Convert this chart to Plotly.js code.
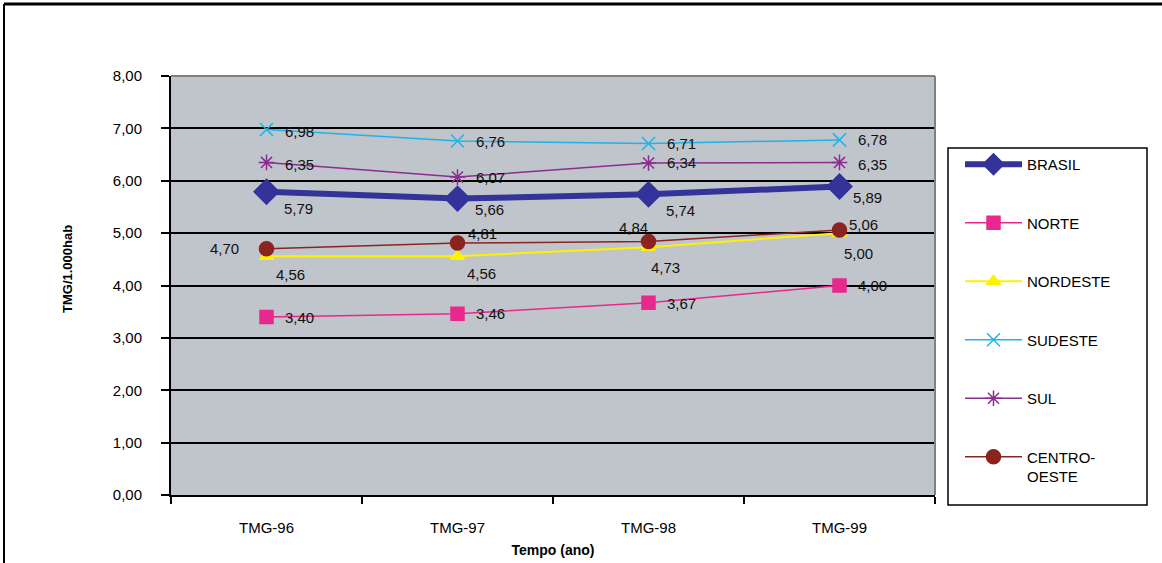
<!DOCTYPE html>
<html><head><meta charset="utf-8">
<script src="https://cdn.plot.ly/plotly-3.0.1.min.js"></script>
<style>html,body{margin:0;padding:0;background:#fff}#c{width:1162px;height:563px}</style>
</head><body><div id="c"></div>
<script>
const categories = ["TMG-96","TMG-97","TMG-98","TMG-99"];
const seriesNames = ["BRASIL","NORTE","NORDESTE","SUDESTE","SUL","CENTRO-<br>OESTE"];
const brasil = [5.79,5.66,5.74,5.89];
const norte = [3.40,3.46,3.67,4.00];
const nordeste = [4.56,4.56,4.73,5.00];
const sudeste = [6.98,6.76,6.71,6.78];
const sul = [6.35,6.07,6.34,6.35];
const centroOeste = [4.70,4.81,4.84,5.06];
const yTicks = [0,1,2,3,4,5,6,7,8];

const font = "Liberation Sans, Arial, sans-serif";
const styles = [
  {color:"#333399", width:6, symbol:"diamond", size:19},
  {color:"#E8288C", width:1.5, symbol:"square", size:13},
  {color:"#FFF200", width:2, symbol:"triangle-up", size:12},
  {color:"#1EB4E8", width:1.5, symbol:"x-thin-open", size:13},
  {color:"#8B2D8F", width:1.5, symbol:"asterisk-open", size:13},
  {color:"#8B2320", width:1.5, symbol:"circle", size:14}
];
// label offsets in pixels (dx right, dy down) relative to each marker
const labelOffsets = [
  [[32,17],[32,11],[32,16],[28,11]],
  [[33,1],[33,0],[33,1],[33,0]],
  [[24,18],[24,17],[17,20],[19,20]],
  [[33,2],[33,1],[33,0],[33,0]],
  [[33,2],[33,0],[33,0],[33,2]],
  [[-42,0],[25,-10],[-15,-14],[24,-5]]
];
const values = [brasil,norte,nordeste,sudeste,sul,centroOeste];
const traces = values.map((v,i)=>({
  type:"scatter", mode:"lines+markers", x:categories, y:v, name:seriesNames[i],
  legendgroup:"g"+i,
  line:{color:styles[i].color, width:styles[i].width},
  marker:{symbol:styles[i].symbol, size:styles[i].size, color:styles[i].color, line:{color:styles[i].color, width:1.5}},
  cliponaxis:false
}));
const annotations = [];
values.forEach((v,i)=>v.forEach((y,j)=>{
  annotations.push({x:categories[j], y:y, xref:"x", yref:"y", text:y.toFixed(2).replace(".",","),
    showarrow:false, xanchor:"center", yanchor:"middle",
    xshift:labelOffsets[i][j][0], yshift:-labelOffsets[i][j][1],
    font:{family:font, size:15, color:"#111"}});
}));
const px = p => (p-171)/764, py = p => (495-p)/419;
annotations.push({xref:"paper", yref:"paper", x:px(67), y:py(269), text:"<b>TMG/1.000hab</b>", textangle:-90,
  showarrow:false, xanchor:"center", yanchor:"middle", font:{family:font, size:13, color:"#000"}});
const layout = {
  width:1162, height:563, separators:",.",
  margin:{l:171, r:227, t:76, b:68},
  paper_bgcolor:"#fff", plot_bgcolor:"#C0C4CB",
  font:{family:font, size:15, color:"#000"},
  showlegend:true,
  legend:{x:px(960), y:py(148), xanchor:"left", yanchor:"top", borderwidth:0,
    bgcolor:"rgba(0,0,0,0)", font:{family:font, size:15, color:"#000"}, tracegroupgap:36, traceorder:"grouped",
    itemwidth:57, valign:"top"},
  xaxis:{type:"category", range:[-0.5,3.5], tickson:"boundaries", ticks:"outside", ticklen:7, tickwidth:2, tickcolor:"#000",
    showline:true, linecolor:"#000", linewidth:2, showgrid:false, ticklabelstandoff:18,
    tickfont:{family:font, size:15},
    title:{text:"<b>Tempo (ano)</b>", font:{family:font, size:14}, standoff:10}},
  yaxis:{range:[0,8], tickvals:yTicks, tickformat:".2f", ticks:"outside", ticklen:8, tickwidth:2, tickcolor:"#000",
    showline:true, linecolor:"#000", linewidth:2, showgrid:true, gridcolor:"#000", gridwidth:2, zeroline:false,
    ticklabelstandoff:16, tickfont:{family:font, size:15}},
  annotations:annotations,
  shapes:[
    {type:"line", xref:"paper", yref:"paper", x0:0, x1:1, y0:1, y1:1, line:{color:"#808080", width:2}},
    {type:"line", xref:"paper", yref:"paper", x0:1, x1:1, y0:0, y1:1, line:{color:"#808080", width:2}},
    {type:"line", xref:"paper", yref:"paper", x0:px(4), x1:px(1162), y0:py(4), y1:py(4), line:{color:"#000", width:3}},
    {type:"line", xref:"paper", yref:"paper", x0:px(4), x1:px(4), y0:py(4), y1:py(563), line:{color:"#000", width:2}},
    {type:"rect", xref:"paper", yref:"paper", x0:px(948), x1:px(1147), y0:py(148), y1:py(505), fillcolor:"#fff", line:{color:"#000", width:1.5}}
  ]
};
Plotly.newPlot("c", traces, layout, {displayModeBar:false, staticPlot:true});
</script></body></html>
